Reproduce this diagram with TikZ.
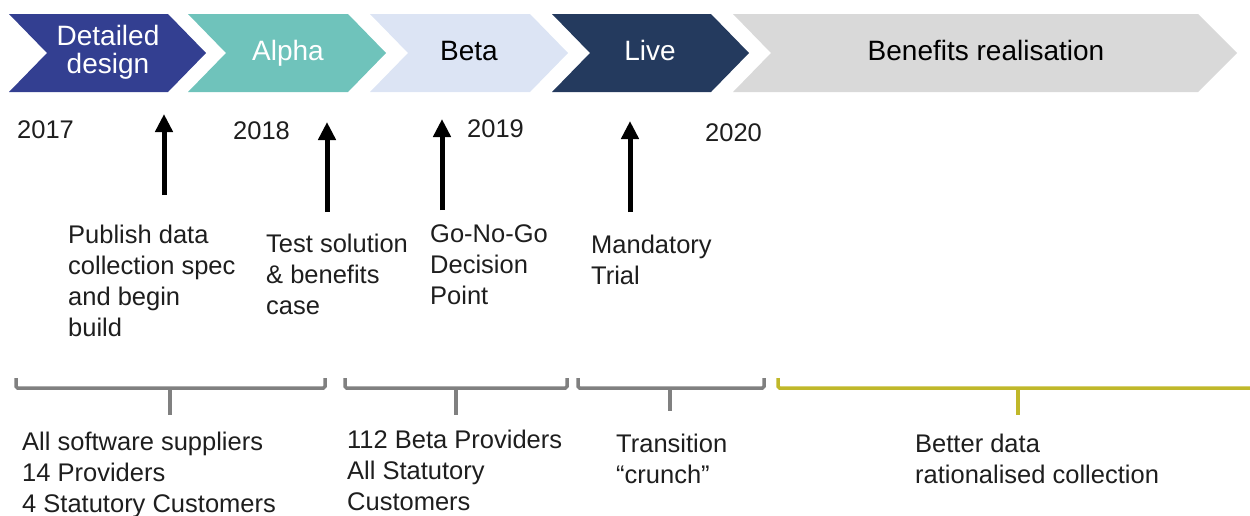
\documentclass[tikz,border=0pt]{standalone}
\usepackage{fontspec}
\setmainfont{Liberation Sans}
\usetikzlibrary{arrows.meta}
\definecolor{cdesign}{HTML}{333F91}
\definecolor{calpha}{HTML}{6FC3BB}
\definecolor{cbeta}{HTML}{DCE4F4}
\definecolor{clive}{HTML}{243A5E}
\definecolor{cbenef}{HTML}{D9D9D9}
\definecolor{brgray}{HTML}{808080}
\definecolor{brolive}{HTML}{C0B82A}
\definecolor{txt}{HTML}{1E1E1E}
\begin{document}
\begin{tikzpicture}[x=1pt,y=-1pt,
  ctext/.style={font=\fontsize{28}{28}\selectfont, inner sep=0, align=center},
  lbl/.style={font=\fontsize{25.5}{31}\selectfont, inner sep=0, align=left, anchor=north west, text=txt},
  yr/.style={font=\fontsize{25.5}{31}\selectfont, inner sep=0, anchor=base west, text=txt},
  uparrow/.style={line width=5pt, -{Triangle[width=17pt,length=18pt]}},
  brk/.style={line width=3.5pt, rounded corners=1.5pt},
]
\useasboundingbox (0,0) rectangle (1250,515);

% chevrons
\fill[cdesign] (9,14) -- (168,14) -- (206,53) -- (168,92) -- (9,92) -- (47,53) -- cycle;
\fill[calpha] (188,14) -- (348,14) -- (386,53) -- (348,92) -- (188,92) -- (226,53) -- cycle;
\fill[cbeta] (370,14) -- (530,14) -- (568,53) -- (530,92) -- (370,92) -- (408,53) -- cycle;
\fill[clive] (552,14) -- (711,14) -- (749,53) -- (711,92) -- (552,92) -- (590,53) -- cycle;
\fill[cbenef] (733,14) -- (1198,14) -- (1237,53) -- (1198,92) -- (733,92) -- (771,53) -- cycle;

\node[ctext, text=white, anchor=north] (tdesign) at (108,25) {Detailed\\design};
\node[ctext, text=white, anchor=base] (talpha) at (288,60) {Alpha};
\node[ctext, text=black, anchor=base] (tbeta) at (469,60) {Beta};
\node[ctext, text=white, anchor=base] (tlive) at (650,60) {Live};
\node[ctext, text=black, anchor=base] (tbenef) at (986,60) {Benefits realisation};

% years
\node[yr] (y2017) at (17,138) {2017};
\node[yr] (y2018) at (233,139) {2018};
\node[yr] (y2019) at (467,137) {2019};
\node[yr] (y2020) at (705,141) {2020};

% milestone arrows
\coordinate (a1s) at (164,195); \coordinate (a1e) at (164,114);
\coordinate (a2s) at (327,212); \coordinate (a2e) at (327,122);
\coordinate (a3s) at (442,210); \coordinate (a3e) at (442,119);
\coordinate (a4s) at (630,212); \coordinate (a4e) at (630,121);
\draw[uparrow] (a1s) -- (a1e);
\draw[uparrow] (a2s) -- (a2e);
\draw[uparrow] (a3s) -- (a3e);
\draw[uparrow] (a4s) -- (a4e);

% milestone labels
\node[lbl] (m1) at (68,224.7) {Publish data\\collection spec\\and begin\\build};
\node[lbl] (m2) at (266,233.7) {Test solution\\\& benefits\\case};
\node[lbl] (m3) at (430,224.4) {Go-No-Go\\Decision\\Point};
\node[lbl] (m4) at (591,234.7) {Mandatory\\Trial};

% brackets
\draw[brk, brgray] (16,378) -- (16,388) -- (325,388) -- (325,378);
\draw[brk, brgray] (170,388) -- (170,415);
\draw[brk, brgray] (345,378) -- (345,388) -- (567,388) -- (567,378);
\draw[brk, brgray] (456,388) -- (456,415);
\draw[brk, brgray] (578,378) -- (578,388) -- (764,388) -- (764,378);
\draw[brk, brgray] (670,388) -- (670,411);
\draw[brk, brolive] (778,378) -- (778,388) -- (1252,388);
\draw[brk, brolive] (1018,388) -- (1018,415);

% bottom labels
\node[lbl] (b1) at (22,431.7) {All software suppliers\\14 Providers\\4 Statutory Customers};
\node[lbl] (b2) at (347,429.7) {112 Beta Providers\\All Statutory\\Customers};
\node[lbl] (b3) at (616,433.7) {Transition\\“crunch”};
\node[lbl] (b4) at (915,433.7) {Better data\\rationalised collection};
\end{tikzpicture}
\end{document}
